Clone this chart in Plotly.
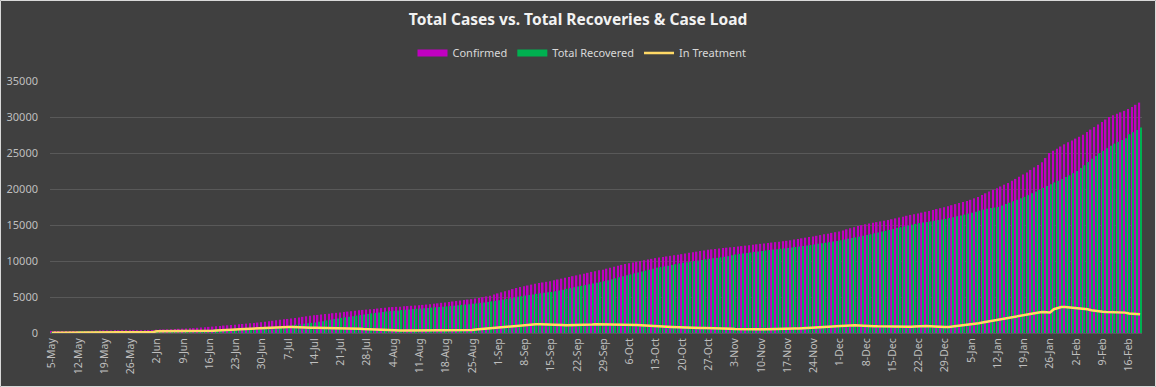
import pandas as pd
import plotly.graph_objects as go

dates = pd.date_range("2020-05-05", periods=291, freq="D")
categories = [f"{d.day}-{d.strftime('%b')}" for d in dates]

confirmed = [
    150, 155, 160, 170, 175, 185, 195,
    200, 210, 230, 260, 300, 320, 340,
    350, 355, 360, 365, 370, 372, 375,
    378, 380, 385, 390, 395, 400, 410,
    450, 470, 490, 510, 530, 550, 580,
    600, 620, 650, 680, 720, 760, 800,
    850, 890, 930, 980, 1030, 1070, 1110,
    1150, 1200, 1250, 1300, 1350, 1400, 1450,
    1500, 1570, 1640, 1700, 1770, 1840, 1900,
    1950, 2020, 2090, 2160, 2240, 2320, 2390,
    2450, 2510, 2570, 2630, 2690, 2750, 2800,
    2850, 2910, 2970, 3030, 3090, 3150, 3200,
    3250, 3300, 3350, 3400, 3460, 3520, 3570,
    3600, 3630, 3660, 3700, 3740, 3780, 3820,
    3850, 3900, 3950, 4000, 4060, 4120, 4190,
    4250, 4310, 4380, 4440, 4510, 4580, 4640,
    4700, 4780, 4870, 4970, 5080, 5190, 5340,
    5500, 5650, 5800, 5950, 6100, 6250, 6380,
    6500, 6600, 6720, 6830, 6930, 7020, 7110,
    7200, 7310, 7430, 7550, 7660, 7780, 7890,
    8000, 8120, 8240, 8360, 8480, 8590, 8700,
    8800, 8930, 9060, 9200, 9330, 9460, 9580,
    9700, 9800, 9900, 10000, 10100, 10200, 10300,
    10400, 10480, 10560, 10640, 10720, 10800, 10880,
    10950, 11040, 11130, 11220, 11300, 11390, 11470,
    11550, 11610, 11670, 11730, 11790, 11850, 11900,
    11950, 12010, 12070, 12130, 12190, 12260, 12320,
    12380, 12440, 12500, 12560, 12620, 12680, 12740,
    12800, 12880, 12970, 13060, 13150, 13240, 13320,
    13400, 13500, 13600, 13700, 13800, 13900, 14000,
    14100, 14250, 14400, 14550, 14700, 14850, 14980,
    15100, 15200, 15300, 15400, 15500, 15600, 15700,
    15800, 15920, 16040, 16160, 16280, 16400, 16500,
    16600, 16720, 16840, 16960, 17090, 17210, 17330,
    17450, 17600, 17750, 17900, 18050, 18200, 18350,
    18500, 18700, 18900, 19150, 19400, 19650, 19900,
    20100, 20350, 20600, 20850, 21150, 21400, 21700,
    22000, 22300, 22650, 23000, 23350, 23700, 24300,
    25000, 25300, 25600, 25900, 26200, 26500, 26750,
    27000, 27250, 27550, 27900, 28250, 28600, 28950,
    29300, 29650, 30000, 30250, 30450, 30650, 30850,
    31100, 31400, 31700, 32000,
]

recovered = [
    100, 100, 105, 110, 115, 120, 125,
    150, 150, 155, 160, 165, 170, 180,
    200, 205, 210, 215, 220, 230, 240,
    250, 255, 260, 265, 270, 280, 290,
    300, 305, 310, 320, 330, 335, 340,
    350, 360, 370, 390, 410, 420, 440,
    450, 460, 480, 500, 510, 520, 540,
    550, 570, 590, 610, 640, 660, 680,
    700, 720, 750, 780, 820, 870, 950,
    1000, 1070, 1140, 1210, 1280, 1340, 1400,
    1450, 1550, 1640, 1740, 1840, 1930, 2020,
    2100, 2180, 2260, 2340, 2420, 2500, 2580,
    2650, 2720, 2790, 2860, 2930, 3000, 3050,
    3100, 3140, 3190, 3230, 3280, 3320, 3360,
    3400, 3440, 3480, 3530, 3570, 3620, 3660,
    3700, 3750, 3800, 3850, 3900, 3950, 4000,
    4050, 4110, 4180, 4250, 4320, 4400, 4480,
    4550, 4640, 4730, 4820, 4920, 5020, 5110,
    5200, 5280, 5360, 5440, 5520, 5590, 5650,
    5700, 5800, 5910, 6020, 6130, 6240, 6340,
    6450, 6550, 6660, 6770, 6880, 6990, 7100,
    7200, 7330, 7460, 7600, 7740, 7880, 8010,
    8150, 8280, 8410, 8540, 8670, 8800, 8930,
    9050, 9150, 9250, 9350, 9450, 9550, 9650,
    9750, 9830, 9910, 9990, 10070, 10150, 10230,
    10300, 10370, 10430, 10500, 10580, 10670, 10790,
    10900, 10970, 11040, 11110, 11180, 11260, 11330,
    11400, 11460, 11520, 11580, 11640, 11700, 11750,
    11800, 11870, 11940, 12010, 12080, 12150, 12230,
    12300, 12380, 12460, 12540, 12620, 12700, 12790,
    12880, 12980, 13080, 13180, 13280, 13380, 13490,
    13600, 13720, 13840, 13960, 14080, 14200, 14330,
    14450, 14570, 14690, 14810, 14930, 15050, 15150,
    15250, 15330, 15420, 15510, 15600, 15690, 15770,
    15850, 15970, 16090, 16210, 16330, 16450, 16580,
    16700, 16850, 17000, 17150, 17250, 17350, 17420,
    17500, 17700, 17900, 18100, 18300, 18500, 18700,
    18900, 19150, 19400, 19650, 19900, 20150, 20400,
    20650, 20900, 21150, 21400, 21650, 21900, 22200,
    22500, 22900, 23300, 23750, 24200, 24600, 24950,
    25300, 25650, 26000, 26300, 26550, 26800, 27050,
    27600, 27900, 28200, 28550,
]

in_treatment = [
    50, 50, 50, 55, 55, 60, 60,
    70, 70, 75, 80, 90, 100, 110,
    120, 120, 120, 125, 130, 130, 140,
    150, 150, 150, 150, 150, 150, 150,
    230, 230, 230, 230, 235, 240, 240,
    250, 250, 250, 260, 260, 270, 270,
    280, 300, 350, 400, 430, 450, 480,
    500, 520, 550, 580, 620, 650, 680,
    700, 700, 720, 740, 760, 790, 810,
    830, 830, 830, 820, 800, 760, 740,
    720, 710, 700, 690, 680, 690, 700,
    700, 700, 700, 680, 650, 600, 550,
    520, 500, 480, 460, 430, 400, 380,
    370, 350, 340, 330, 330, 330, 330,
    330, 330, 330, 330, 330, 330, 330,
    330, 330, 330, 330, 340, 360, 400,
    430, 470, 520, 580, 620, 680, 740,
    800, 850, 900, 950, 1000, 1050, 1100,
    1150, 1200, 1200, 1210, 1200, 1200, 1200,
    1200, 1170, 1140, 1100, 1070, 1070, 1080,
    1100, 1150, 1170, 1170, 1170, 1200, 1200,
    1200, 1210, 1200, 1200, 1200, 1200, 1190,
    1180, 1150, 1110, 1080, 1040, 1000, 950,
    900, 880, 880, 870, 850, 820, 800,
    790, 780, 770, 750, 730, 710, 700,
    700, 700, 690, 680, 650, 620, 600,
    560, 540, 520, 510, 510, 510, 510,
    520, 520, 520, 530, 540, 560, 580,
    600, 600, 610, 630, 650, 680, 700,
    800, 820, 830, 850, 880, 900, 940,
    970, 1050, 1080, 1080, 1060, 1050, 1050,
    1050, 1000, 950, 930, 920, 900, 870,
    850, 840, 830, 830, 840, 860, 900,
    950, 960, 960, 940, 900, 860, 830,
    830, 850, 900, 980, 1040, 1080, 1120,
    1160, 1250, 1350, 1450, 1550, 1650, 1750,
    1800, 1900, 2000, 2100, 2200, 2300, 2400,
    2450, 2550, 2650, 2750, 2850, 2900, 2900,
    2850, 3300, 3500, 3600, 3620, 3580, 3500,
    3450, 3420, 3400, 3300, 3150, 3050, 3000,
    2950, 2920, 2900, 2950, 2920, 2880, 2830,
    2700, 2720, 2650, 2600,
]

y_ticks = [0, 5000, 10000, 15000, 20000, 25000, 30000, 35000]
x_ticks = categories[::7]

BG = "#404040"
GRID = "#595959"
TXT = "#bfbfbf"
FONT = "Noto Sans"
C_CONF = "#c000c0"
C_REC = "#00b050"
C_TREAT = "#ffd966"

fig = go.Figure()
fig.add_trace(go.Bar(x=categories, y=confirmed, name="Confirmed", showlegend=False,
                     marker=dict(color=C_CONF, line=dict(width=0))))
fig.add_trace(go.Bar(x=categories, y=recovered, name="Total Recovered", showlegend=False,
                     marker=dict(color=C_REC, line=dict(width=0))))
fig.add_trace(go.Scatter(x=categories, y=in_treatment, name="In Treatment", showlegend=False,
                         mode="lines", line=dict(color=C_TREAT, width=2.5)))
# legend entries drawn as wide swatches like the original
for nm, col, w in [("Confirmed", C_CONF, 7), ("Total Recovered", C_REC, 7), ("In Treatment", C_TREAT, 2.5)]:
    fig.add_trace(go.Scatter(x=[None], y=[None], name=nm, mode="lines",
                             line=dict(color=col, width=w), showlegend=True))

W, H = 1156, 387
L, R, T, B = 50, 14, 81, 54
pw = W - L - R
ph = H - T - B

fig.update_layout(
    width=W, height=H,
    margin=dict(l=L, r=R, t=T, b=B, pad=0, autoexpand=False),
    paper_bgcolor=BG, plot_bgcolor=BG,
    barmode="group", bargap=0.2, bargroupgap=0,
    font=dict(family=FONT, color=TXT, size=11),
    title=dict(text="<b>Total Cases vs. Total Recoveries &amp; Case Load</b>",
               x=578 / W, xanchor="center", xref="container",
               y=1 - 20 / H, yanchor="middle",
               font=dict(family=FONT, size=15.5, color="#f2f2f2")),
    legend=dict(orientation="h", x=(582 - L) / pw, xanchor="center",
                y=(H - B - 53) / ph, yanchor="middle",
                font=dict(family=FONT, size=11, color="#d9d9d9"),
                bgcolor="rgba(0,0,0,0)", itemwidth=30, traceorder="normal"),
    showlegend=True,
    xaxis=dict(type="category", tickmode="array", tickvals=x_ticks, ticktext=x_ticks,
               tickangle=-90, showgrid=False, zeroline=False, showline=True,
               linecolor=GRID, linewidth=1, ticks="", automargin=False,
               tickfont=dict(family=FONT, size=10.5, color=TXT),
               range=[-0.5, len(categories) - 0.5]),
    yaxis=dict(range=[0, 35000], tickmode="array", tickvals=y_ticks,
               ticktext=[str(v) for v in y_ticks], automargin=False,
               showgrid=True, gridcolor=GRID, gridwidth=1, zeroline=False,
               showline=False, ticks="", ticklabelstandoff=11,
               tickfont=dict(family=FONT, size=11, color=TXT)),
    shapes=[dict(type="rect", xref="paper", yref="paper",
                 x0=(0.5 - L) / pw, x1=(W - 0.5 - L) / pw,
                 y0=-(B - 0.5) / ph, y1=1 + (T - 0.5) / ph,
                 line=dict(color="#d9d9d9", width=1), fillcolor="rgba(0,0,0,0)",
                 layer="above")],
)

fig.write_html("out.html", config={"displayModeBar": False},
               post_script="document.body.style.margin='0';document.body.style.overflow='hidden';")
